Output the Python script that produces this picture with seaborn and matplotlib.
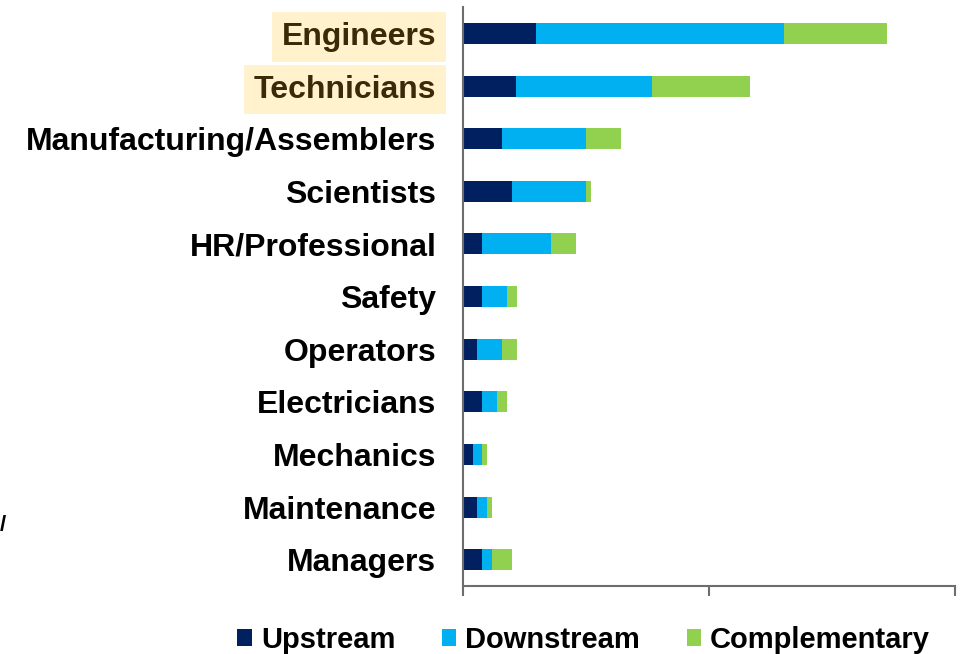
import numpy as np
import pandas as pd
import seaborn as sns
import matplotlib.pyplot as plt
from matplotlib.patches import Patch

categories = ['Engineers', 'Technicians', 'Manufacturing/Assemblers', 'Scientists',
              'HR/Professional', 'Safety', 'Operators', 'Electricians',
              'Mechanics', 'Maintenance', 'Managers']
upstream = [1.48, 1.09, 0.80, 1.00, 0.40, 0.40, 0.30, 0.40, 0.20, 0.30, 0.40]
downstream = [5.05, 2.76, 1.70, 1.50, 1.40, 0.50, 0.50, 0.30, 0.20, 0.20, 0.20]
complementary = [2.09, 1.99, 0.71, 0.10, 0.50, 0.20, 0.30, 0.20, 0.10, 0.10, 0.40]
highlighted = ['Engineers', 'Technicians']

colors = {'Upstream': '#002060', 'Downstream': '#00B0F0', 'Complementary': '#92D050'}

df = pd.DataFrame({'role': categories, 'up': upstream,
                   'down': downstream, 'comp': complementary})
df['up_down'] = df['up'] + df['down']
df['total'] = df['up_down'] + df['comp']

sns.set_style('white')
plt.rcParams['font.family'] = ['Liberation Sans', 'DejaVu Sans']

fig = plt.figure(figsize=(9.68, 6.54), dpi=100)
ax = fig.add_axes([0.478, 0.104, 0.509, 0.885])

# stacked bars: draw totals first, then overlay the shorter sums
sns.barplot(data=df, x='total', y='role', order=categories, color=colors['Complementary'],
            width=0.4, saturation=1, edgecolor='none', orient='h', ax=ax)
sns.barplot(data=df, x='up_down', y='role', order=categories, color=colors['Downstream'],
            width=0.4, saturation=1, edgecolor='none', orient='h', ax=ax)
sns.barplot(data=df, x='up', y='role', order=categories, color=colors['Upstream'],
            width=0.4, saturation=1, edgecolor='none', orient='h', ax=ax)

ax.set_xlim(0, 10)
ax.set_ylim(len(categories) - 0.5, -0.5)
ax.set_xticks([0, 5, 10])
ax.set_xticklabels([])
ax.set_xlabel('')
ax.set_ylabel('')
ax.tick_params(axis='x', direction='out', length=7, width=1.5, color='#6d6d6d', bottom=True)
ax.tick_params(axis='y', length=0, pad=19, labelsize=23, labelcolor='black')

for side in ['top', 'right']:
    ax.spines[side].set_visible(False)
for side in ['left', 'bottom']:
    ax.spines[side].set_color('#6d6d6d')
    ax.spines[side].set_linewidth(1.5)

for lbl in ax.get_yticklabels():
    lbl.set_fontweight('bold')
    if lbl.get_text() in highlighted:
        lbl.set_color('#3b2a08')
        lbl.set_bbox(dict(facecolor='#FFF2CC', edgecolor='none', boxstyle='square,pad=0.3'))

handles = [Patch(facecolor=c, edgecolor='none', label=k) for k, c in colors.items()]
fig.legend(handles=handles, loc='center', bbox_to_anchor=(0.603, 0.022), ncol=3,
           frameon=False, prop={'weight': 'bold', 'size': 21},
           handlelength=0.5, handleheight=0.5, handletextpad=0.3, columnspacing=1.6,
           labelcolor='black')

fig.text(0.0, 0.197, '/', fontsize=16, fontweight='bold', color='black', ha='left', va='center')

fig.savefig('out.png', dpi=100)
